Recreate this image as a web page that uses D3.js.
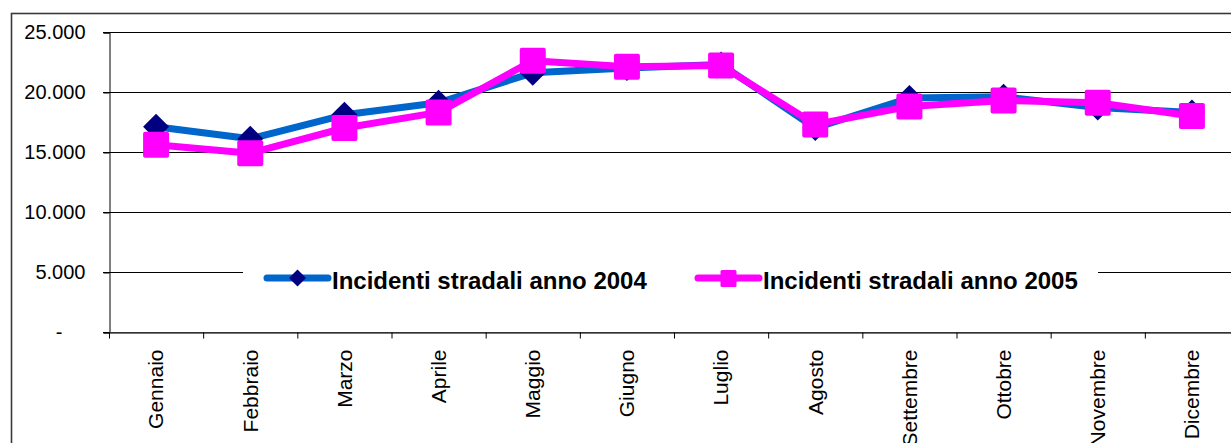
<!DOCTYPE html>
<html>
<head>
<meta charset="utf-8">
<script src="https://cdn.jsdelivr.net/npm/d3@7"></script>
<style>
  body { margin: 0; background: #fff; }
  svg { display: block; font-family: "Liberation Sans", Arial, sans-serif; }
</style>
</head>
<body>
<div id="chart"></div>
<script>
const months = ["Gennaio", "Febbraio", "Marzo", "Aprile", "Maggio", "Giugno",
                "Luglio", "Agosto", "Settembre", "Ottobre", "Novembre", "Dicembre"]
const inc2004 = [17100, 16100, 18100, 19100, 21600, 22000, 22300, 17000, 19500, 19600, 18700, 18300]
const inc2005 = [15600, 14900, 17000, 18300, 22600, 22100, 22200, 17300, 18800, 19300, 19100, 18000]
const yTicks = [0, 5000, 10000, 15000, 20000, 25000]
const seriesNames = ["Incidenti stradali anno 2004", "Incidenti stradali anno 2005"]

const W = 1231, H = 443
const PLOT = {LEFT: 109, RIGHT: 1239, TOP: 32, BOTTOM: 332}

const svg = d3.select("#chart").append("svg")
    .attr("width", W)
    .attr("height", H)

// outer chart border
svg.append("rect")
    .attr("x", 11.5).attr("y", 13.5)
    .attr("width", W + 20).attr("height", H + 20)
    .attr("fill", "none")
    .attr("stroke", "#3a3a3a")
    .attr("stroke-width", 1.6)

const x = d3.scaleBand().domain(months).range([PLOT.LEFT, PLOT.RIGHT])
const y = d3.scaleLinear().domain([0, 25000]).range([PLOT.BOTTOM, PLOT.TOP])
const bw = x.bandwidth()

// gridlines
svg.append("g")
  .selectAll("line")
  .data(yTicks)
  .join("line")
    .attr("x1", PLOT.LEFT - 6).attr("x2", PLOT.RIGHT)
    .attr("y1", d => Math.round(y(d)) + 0.5).attr("y2", d => Math.round(y(d)) + 0.5)
    .attr("stroke", "#000")
    .attr("stroke-width", 1.2)

// y axis
const fmt = d => d === 0 ? "-" : d3.format(",")(d).replace(/,/g, ".")
const yAxis = svg.append("g")
    .attr("transform", `translate(${PLOT.LEFT + 0.5},0.5)`)
    .call(d3.axisLeft(y).tickValues(yTicks).tickFormat(fmt).tickSize(6).tickPadding(18))
yAxis.select(".domain").attr("stroke", "#000")
yAxis.selectAll(".tick line").attr("stroke", "#000")
yAxis.selectAll("text")
    .attr("font-size", 20)
    .attr("fill", "#000")
    .attr("font-family", "Liberation Sans, Arial, sans-serif")
    .filter(d => d === 0).attr("dx", -23)

// x axis
const xAxis = svg.append("g")
    .attr("transform", `translate(0,${PLOT.BOTTOM + 0.5})`)
    .call(d3.axisBottom(x).tickSizeInner(6).tickSizeOuter(0).tickPadding(0))
xAxis.select(".domain").attr("stroke", "#444").attr("stroke-width", 1.3)
xAxis.selectAll(".tick line")
    .attr("x1", -bw / 2 + 0.5).attr("x2", -bw / 2 + 0.5)
    .attr("stroke", "#000")
xAxis.selectAll("text")
    .attr("font-size", 21)
    .attr("fill", "#000")
    .attr("font-family", "Liberation Sans, Arial, sans-serif")
    .attr("text-anchor", "end")
    .attr("transform", "translate(0,17) rotate(-90)")
    .attr("x", 0).attr("y", 0)
    .attr("dy", "0.35em")

const line = d3.line()
    .x((d, i) => x(months[i]) + bw / 2)
    .y(d => y(d))

const diamond = d3.symbol().type(d3.symbolDiamond2)
const sq = 26

// series 2004
svg.append("path")
    .datum(inc2004)
    .attr("d", line)
    .attr("fill", "none")
    .attr("stroke", "#0066CC")
    .attr("stroke-width", 7)
    .attr("stroke-linejoin", "round")
svg.append("g")
  .selectAll("path")
  .data(inc2004)
  .join("path")
    .attr("d", d3.symbol().type(d3.symbolSquare).size(18.4 * 18.4))
    .attr("transform", (d, i) => `translate(${x(months[i]) + bw / 2},${y(d)}) rotate(45)`)
    .attr("fill", "#000080")

// series 2005
svg.append("path")
    .datum(inc2005)
    .attr("d", line)
    .attr("fill", "none")
    .attr("stroke", "#FF00FF")
    .attr("stroke-width", 7)
    .attr("stroke-linejoin", "round")
svg.append("g")
  .selectAll("rect")
  .data(inc2005)
  .join("rect")
    .attr("x", (d, i) => x(months[i]) + bw / 2 - sq / 2)
    .attr("y", d => y(d) - sq / 2)
    .attr("width", sq).attr("height", sq)
    .attr("rx", 2)
    .attr("fill", "#FF00FF")

// legend
const legend = svg.append("g")
legend.append("rect")
    .attr("x", 243).attr("y", 258)
    .attr("width", 855).attr("height", 42)
    .attr("fill", "#fff")

const items = [
  {name: seriesNames[0], x0: 267, color: "#0066CC", mark: "diamond"},
  {name: seriesNames[1], x0: 698, color: "#FF00FF", mark: "square"}
]
const ly = 278
items.forEach(it => {
  legend.append("line")
      .attr("x1", it.x0).attr("x2", it.x0 + 61)
      .attr("y1", ly).attr("y2", ly)
      .attr("stroke", it.color)
      .attr("stroke-width", 7)
      .attr("stroke-linecap", "round")
  const cx = it.x0 + 30.5
  if (it.mark === "diamond") {
    legend.append("path")
        .attr("d", d3.symbol().type(d3.symbolSquare).size(12 * 12))
        .attr("transform", `translate(${cx},${ly}) rotate(45)`)
        .attr("fill", "#000080")
  } else {
    legend.append("rect")
        .attr("x", cx - 8).attr("y", ly - 8)
        .attr("width", 16).attr("height", 17)
        .attr("rx", 1.5)
        .attr("fill", "#FF00FF")
  }
  legend.append("text")
      .attr("x", it.x0 + 65).attr("y", 289)
      .attr("font-size", 24)
      .attr("font-weight", "bold")
      .attr("fill", "#000")
      .text(it.name)
})
</script>
</body>
</html>
